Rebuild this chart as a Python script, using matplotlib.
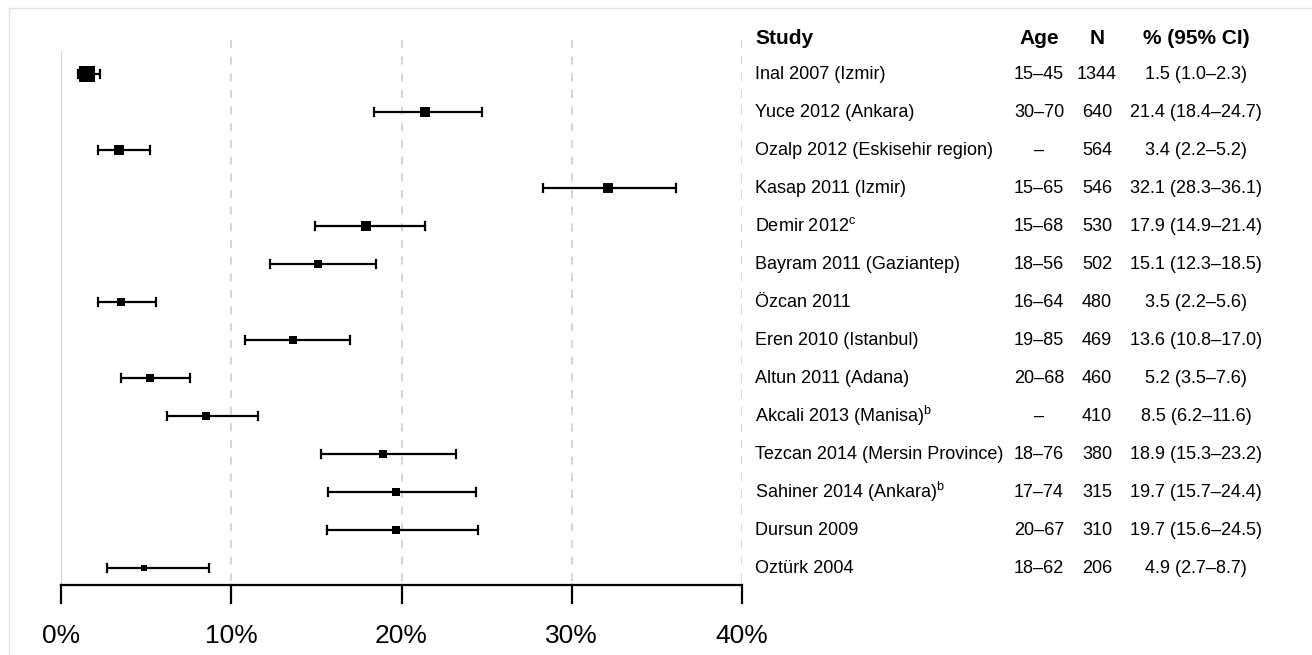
import matplotlib
matplotlib.use('Agg')
from matplotlib import pyplot as plt
from matplotlib import transforms
from matplotlib.lines import Line2D

# data
studies = ['Inal 2007 (Izmir)', 'Yuce 2012 (Ankara)', 'Ozalp 2012 (Eskisehir region)',
           'Kasap 2011 (Izmir)', 'Demir 2012$^\\mathrm{c}$', 'Bayram 2011 (Gaziantep)',
           'Özcan 2011', 'Eren 2010 (Istanbul)', 'Altun 2011 (Adana)',
           'Akcali 2013 (Manisa)$^\\mathrm{b}$', 'Tezcan 2014 (Mersin Province)',
           'Sahiner 2014 (Ankara)$^\\mathrm{b}$', 'Dursun 2009', 'Oztürk 2004']
ages = ['15–45', '30–70', '–', '15–65', '15–68', '18–56', '16–64', '19–85',
        '20–68', '–', '18–76', '17–74', '20–67', '18–62']
n = [1344, 640, 564, 546, 530, 502, 480, 469, 460, 410, 380, 315, 310, 206]
est = [1.5, 21.4, 3.4, 32.1, 17.9, 15.1, 3.5, 13.6, 5.2, 8.5, 18.9, 19.7, 19.7, 4.9]
lo = [1.0, 18.4, 2.2, 28.3, 14.9, 12.3, 2.2, 10.8, 3.5, 6.2, 15.3, 15.7, 15.6, 2.7]
hi = [2.3, 24.7, 5.2, 36.1, 21.4, 18.5, 5.6, 17.0, 7.6, 11.6, 23.2, 24.4, 24.5, 8.7]
xticks = [0, 10, 20, 30, 40]

plt.rcParams['font.family'] = ['Liberation Sans', 'DejaVu Sans']
plt.rcParams['mathtext.fontset'] = 'custom'
plt.rcParams['mathtext.rm'] = 'Liberation Sans'

W, H = 1312, 655
fig = plt.figure(figsize=(W / 100, H / 100), dpi=100)
ax = fig.add_axes([61 / W, 0, 681 / W, 1])
ax.set_xlim(0, 40)
# rows are 38 px apart, first row at 74 px from the top
ax.set_ylim((H - 74) / 38, -74 / 38)
ax.axis('off')

axis_y = (585 - 74) / 38
grid_top = (40 - 74) / 38

# reference lines
ax.plot([0, 0], [(52 - 74) / 38, axis_y], color='#d6d6d6', lw=1.6, zorder=0)
for t in xticks[1:]:
    ax.plot([t, t], [grid_top, axis_y], color='#d6d6d6', lw=1.5,
            linestyle=(0, (3.8, 4.2)), zorder=0)

# estimates with CIs, box side grows with sample size
for i in range(len(studies)):
    ax.plot([lo[i], hi[i]], [i, i], color='black', lw=1.6, solid_capstyle='butt')
    for e in (lo[i], hi[i]):
        ax.plot([e, e], [i - 0.11, i + 0.11], color='black', lw=1.6)
    side = (4.3 + 0.009 * n[i]) / 1.389
    ax.plot(est[i], i, marker='s', color='black', markersize=side,
            markeredgewidth=0, zorder=3)

# x axis
ax.plot([0, 40], [axis_y, axis_y], color='black', lw=1.6, clip_on=False)
for t in xticks:
    ax.plot([t, t], [axis_y, (603 - 74) / 38], color='black', lw=1.6, clip_on=False)
    ax.text(t, (636 - 74) / 38, '%d%%' % t, ha='center', va='center', fontsize=19)

# table on the right
tr = transforms.blended_transform_factory(fig.transFigure, ax.transData)
hy = (38 - 74) / 38
ax.text(755 / W, hy, 'Study', transform=tr, fontsize=15, weight='bold', va='center')
ax.text(1039 / W, hy, 'Age', transform=tr, fontsize=15, weight='bold', va='center', ha='center')
ax.text(1097 / W, hy, 'N', transform=tr, fontsize=15, weight='bold', va='center', ha='center')
ax.text(1196 / W, hy, '% (95% CI)', transform=tr, fontsize=15, weight='bold', va='center', ha='center')
for i in range(len(studies)):
    ax.text(755 / W, i, studies[i], transform=tr, fontsize=13, va='center')
    ax.text(1039 / W, i, ages[i], transform=tr, fontsize=13, va='center', ha='center')
    ax.text(1097 / W, i, str(n[i]), transform=tr, fontsize=13, va='center', ha='center')
    ax.text(1196 / W, i, '%.1f (%.1f–%.1f)' % (est[i], lo[i], hi[i]), transform=tr,
            fontsize=13, va='center', ha='center')

# light frame
fig.add_artist(Line2D([9 / W, 1], [1 - 8 / H, 1 - 8 / H], color='#e3e3e3', lw=1))
fig.add_artist(Line2D([9 / W, 9 / W], [0, 1 - 8 / H], color='#e3e3e3', lw=1))

fig.savefig('out.png', dpi=100)
